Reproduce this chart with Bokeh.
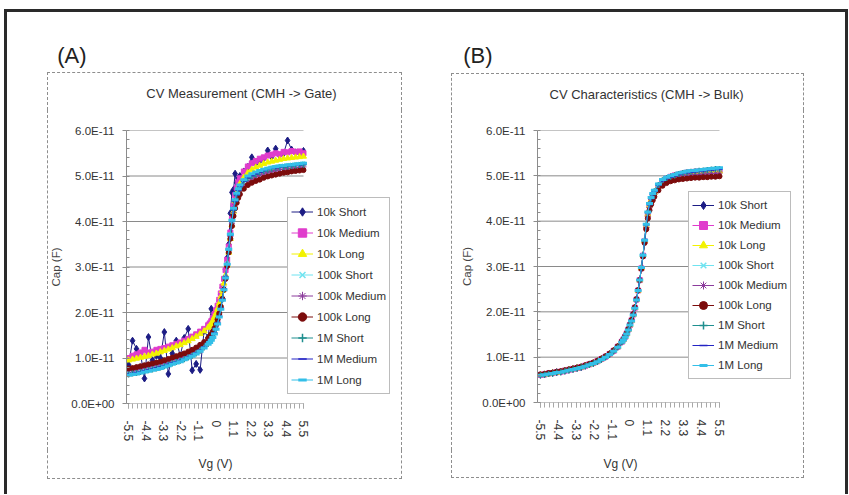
from bokeh.plotting import figure
from bokeh.models import (Range1d, FixedTicker, CustomJSTickFormatter, Legend, LegendItem,
                          Label, InlineStyleSheet)
from bokeh.layouts import row, column
from bokeh.embed import file_html
from bokeh.resources import INLINE

# ---------------- data (capacitance in units of 1E-11 F) ----------------
vg = [-5.5, -5.25, -5.0, -4.75, -4.5, -4.25, -4.0, -3.75, -3.5, -3.25, -3.0, -2.75, -2.5, -2.25, -2.0, -1.75, -1.5, -1.25, -1.0, -0.75, -0.5,
      -0.4, -0.3, -0.2, -0.1, 0.0, 0.1, 0.2, 0.3, 0.4, 0.5, 0.6, 0.7, 0.8, 0.9, 1.0, 1.1, 1.2, 1.3, 1.4, 1.5,
      1.75, 2.0, 2.25, 2.5, 2.75, 3.0, 3.25, 3.5, 3.75, 4.0, 4.25, 4.5, 4.75, 5.0, 5.25, 5.5]

series_names = ["10k Short", "10k Medium", "10k Long", "100k Short", "100k Medium",
                "100k Long", "1M Short", "1M Medium", "1M Long"]

x_tick_values = [-5.5, -4.4, -3.3, -2.2, -1.1, 0.0, 1.1, 2.2, 3.3, 4.4, 5.5]
y_tick_values = [0, 1, 2, 3, 4, 5, 6]

# Panel A: CV Measurement (CMH -> Gate)
a_10k_short = [0.85, 1.38, 1.20, 1.10, 0.55, 1.46, 0.95, 1.05, 1.00, 1.57, 0.65, 1.10, 1.38, 1.05, 1.44, 1.64, 0.73, 0.87, 0.74, 1.60, 1.45,
               1.75, 2.08, 1.93, 1.85, 2.00, 2.10, 2.25, 2.40, 2.55, 2.72, 2.95, 3.20, 3.50, 4.18, 4.64, 4.70, 5.05, 4.85, 4.95, 5.00,
               5.10, 5.20, 5.41, 5.28, 5.33, 5.38, 5.56, 5.42, 5.60, 5.45, 5.50, 5.78, 5.58, 5.52, 5.50, 5.55]
a_10k_medium = [1.00, 1.05, 1.08, 1.12, 1.18, 1.12, 1.14, 1.18, 1.20, 1.22, 1.25, 1.28, 1.31, 1.34, 1.38, 1.42, 1.47, 1.52, 1.58, 1.64, 1.72,
                1.76, 1.81, 1.88, 1.96, 2.05, 2.15, 2.28, 2.42, 2.57, 2.74, 2.93, 3.16, 3.45, 3.76, 4.06, 4.35, 4.58, 4.74, 4.86, 4.95,
                5.10, 5.21, 5.28, 5.33, 5.38, 5.41, 5.45, 5.47, 5.50, 5.48, 5.53, 5.52, 5.55, 5.53, 5.54, 5.50]
a_10k_long = [0.95, 0.97, 0.99, 1.01, 1.03, 1.05, 1.08, 1.10, 1.13, 1.16, 1.19, 1.22, 1.26, 1.29, 1.33, 1.37, 1.42, 1.47, 1.53, 1.59, 1.67,
              1.71, 1.75, 1.82, 1.90, 1.98, 2.08, 2.20, 2.34, 2.48, 2.64, 2.82, 3.05, 3.32, 3.62, 3.92, 4.22, 4.45, 4.62, 4.74, 4.83,
              4.97, 5.07, 5.14, 5.19, 5.23, 5.27, 5.30, 5.32, 5.34, 5.36, 5.38, 5.39, 5.40, 5.41, 5.42, 5.43]
a_100k_short = [0.66, 0.67, 0.69, 0.71, 0.73, 0.75, 0.77, 0.79, 0.81, 0.84, 0.87, 0.90, 0.93, 0.96, 0.99, 1.03, 1.07, 1.12, 1.18, 1.25, 1.33,
                1.37, 1.42, 1.48, 1.56, 1.66, 1.78, 1.93, 2.10, 2.30, 2.53, 2.79, 3.08, 3.40, 3.72, 4.02, 4.27, 4.46, 4.60, 4.70, 4.78,
                4.90, 4.97, 5.02, 5.06, 5.10, 5.13, 5.16, 5.18, 5.20, 5.22, 5.23, 5.24, 5.25, 5.26, 5.27, 5.28]
a_100k_medium = [0.72, 0.73, 0.75, 0.77, 0.79, 0.81, 0.83, 0.85, 0.87, 0.90, 0.93, 0.96, 0.99, 1.02, 1.05, 1.09, 1.13, 1.18, 1.24, 1.30, 1.38,
                 1.42, 1.47, 1.53, 1.61, 1.70, 1.81, 1.95, 2.11, 2.30, 2.52, 2.77, 3.05, 3.36, 3.67, 3.96, 4.20, 4.38, 4.51, 4.60, 4.68,
                 4.80, 4.88, 4.94, 4.98, 5.02, 5.05, 5.08, 5.10, 5.12, 5.14, 5.15, 5.16, 5.17, 5.18, 5.19, 5.20]
a_100k_long = [0.77, 0.78, 0.80, 0.82, 0.84, 0.86, 0.88, 0.90, 0.92, 0.95, 0.98, 1.01, 1.04, 1.07, 1.10, 1.14, 1.18, 1.23, 1.29, 1.35, 1.43,
               1.47, 1.52, 1.58, 1.65, 1.74, 1.85, 1.98, 2.13, 2.30, 2.50, 2.74, 3.02, 3.32, 3.62, 3.90, 4.12, 4.29, 4.41, 4.52, 4.60,
               4.72, 4.80, 4.85, 4.89, 4.92, 4.96, 4.99, 5.01, 5.03, 5.05, 5.07, 5.08, 5.10, 5.11, 5.12, 5.13]
a_1m_short = [0.64, 0.66, 0.67, 0.69, 0.71, 0.73, 0.75, 0.77, 0.79, 0.82, 0.85, 0.88, 0.91, 0.94, 0.97, 1.01, 1.05, 1.10, 1.16, 1.23, 1.31,
              1.35, 1.40, 1.46, 1.54, 1.64, 1.76, 1.91, 2.08, 2.28, 2.51, 2.77, 3.06, 3.38, 3.70, 4.00, 4.25, 4.44, 4.58, 4.68, 4.76,
              4.88, 4.95, 5.00, 5.04, 5.08, 5.11, 5.14, 5.16, 5.18, 5.19, 5.20, 5.21, 5.22, 5.23, 5.24, 5.25]
a_1m_medium = [0.65, 0.66, 0.68, 0.70, 0.72, 0.74, 0.76, 0.78, 0.80, 0.83, 0.86, 0.89, 0.92, 0.95, 0.98, 1.02, 1.06, 1.11, 1.17, 1.24, 1.32,
               1.36, 1.41, 1.47, 1.55, 1.65, 1.77, 1.92, 2.09, 2.29, 2.52, 2.78, 3.07, 3.39, 3.71, 4.01, 4.26, 4.45, 4.59, 4.69, 4.77,
               4.89, 4.96, 5.01, 5.05, 5.09, 5.12, 5.15, 5.17, 5.18, 5.20, 5.21, 5.22, 5.23, 5.24, 5.25, 5.26]
a_1m_long = [0.62, 0.64, 0.65, 0.67, 0.69, 0.71, 0.73, 0.75, 0.77, 0.80, 0.83, 0.86, 0.89, 0.92, 0.96, 1.00, 1.04, 1.09, 1.15, 1.22, 1.30,
             1.34, 1.39, 1.45, 1.53, 1.63, 1.75, 1.90, 2.07, 2.27, 2.50, 2.76, 3.06, 3.39, 3.72, 4.03, 4.29, 4.48, 4.62, 4.72, 4.80,
             4.92, 5.00, 5.05, 5.09, 5.12, 5.15, 5.17, 5.19, 5.21, 5.22, 5.23, 5.24, 5.25, 5.26, 5.27, 5.28]

# Panel B: CV Characteristics (CMH -> Bulk)
b_10k_short = [0.61, 0.62, 0.64, 0.65, 0.67, 0.68, 0.70, 0.72, 0.74, 0.76, 0.78, 0.81, 0.84, 0.87, 0.91, 0.96, 1.01, 1.07, 1.14, 1.23, 1.34,
               1.39, 1.45, 1.52, 1.61, 1.71, 1.81, 1.94, 2.09, 2.27, 2.47, 2.70, 2.96, 3.24, 3.56, 3.88, 4.14, 4.33, 4.46, 4.56, 4.63,
               4.77, 4.87, 4.93, 4.97, 5.00, 5.02, 5.04, 5.05, 5.06, 5.07, 5.08, 5.08, 5.09, 5.09, 5.10, 5.10]
b_10k_medium = [0.61, 0.62, 0.64, 0.65, 0.67, 0.68, 0.70, 0.72, 0.74, 0.76, 0.78, 0.81, 0.84, 0.87, 0.91, 0.96, 1.01, 1.07, 1.14, 1.23, 1.34,
                1.39, 1.45, 1.52, 1.61, 1.71, 1.81, 1.94, 2.09, 2.27, 2.47, 2.70, 2.96, 3.24, 3.56, 3.88, 4.14, 4.34, 4.47, 4.57, 4.64,
                4.78, 4.88, 4.94, 4.98, 5.01, 5.03, 5.05, 5.07, 5.08, 5.09, 5.10, 5.10, 5.11, 5.11, 5.12, 5.12]
b_10k_long = [0.61, 0.62, 0.63, 0.65, 0.66, 0.68, 0.70, 0.72, 0.74, 0.76, 0.78, 0.81, 0.84, 0.87, 0.91, 0.96, 1.01, 1.07, 1.14, 1.23, 1.34,
              1.39, 1.45, 1.52, 1.61, 1.71, 1.81, 1.94, 2.09, 2.27, 2.47, 2.70, 2.96, 3.25, 3.57, 3.89, 4.15, 4.34, 4.47, 4.56, 4.63,
              4.77, 4.86, 4.92, 4.96, 4.99, 5.02, 5.04, 5.05, 5.06, 5.07, 5.08, 5.08, 5.09, 5.09, 5.10, 5.10]
b_100k_short = [0.60, 0.61, 0.63, 0.64, 0.66, 0.67, 0.69, 0.71, 0.73, 0.75, 0.77, 0.80, 0.83, 0.86, 0.90, 0.95, 1.00, 1.06, 1.13, 1.22, 1.33,
                1.38, 1.44, 1.51, 1.60, 1.71, 1.80, 1.93, 2.08, 2.26, 2.47, 2.70, 2.97, 3.25, 3.58, 3.92, 4.19, 4.38, 4.51, 4.60, 4.67,
                4.81, 4.91, 4.96, 4.99, 5.02, 5.05, 5.07, 5.09, 5.10, 5.11, 5.12, 5.13, 5.14, 5.15, 5.16, 5.16]
b_100k_medium = [0.61, 0.63, 0.64, 0.66, 0.67, 0.69, 0.71, 0.73, 0.75, 0.77, 0.79, 0.82, 0.85, 0.88, 0.92, 0.97, 1.02, 1.08, 1.15, 1.24, 1.35,
                 1.40, 1.46, 1.53, 1.62, 1.72, 1.82, 1.95, 2.09, 2.27, 2.47, 2.70, 2.96, 3.24, 3.55, 3.86, 4.11, 4.30, 4.43, 4.53, 4.60,
                 4.74, 4.84, 4.90, 4.94, 4.97, 4.99, 5.00, 5.01, 5.02, 5.03, 5.03, 5.04, 5.04, 5.05, 5.05, 5.06]
b_100k_long = [0.62, 0.63, 0.65, 0.66, 0.68, 0.69, 0.71, 0.73, 0.75, 0.77, 0.79, 0.82, 0.85, 0.88, 0.92, 0.97, 1.02, 1.08, 1.15, 1.24, 1.35,
               1.40, 1.46, 1.53, 1.62, 1.72, 1.82, 1.95, 2.10, 2.28, 2.48, 2.70, 2.95, 3.22, 3.52, 3.82, 4.06, 4.24, 4.37, 4.46, 4.54,
               4.68, 4.78, 4.84, 4.88, 4.90, 4.92, 4.93, 4.94, 4.95, 4.96, 4.96, 4.97, 4.97, 4.98, 4.98, 4.99]
b_1m_short = [0.60, 0.61, 0.63, 0.64, 0.66, 0.67, 0.69, 0.71, 0.73, 0.75, 0.77, 0.80, 0.83, 0.86, 0.90, 0.95, 1.00, 1.06, 1.13, 1.22, 1.33,
              1.38, 1.44, 1.51, 1.60, 1.71, 1.80, 1.93, 2.08, 2.26, 2.47, 2.70, 2.97, 3.25, 3.58, 3.92, 4.19, 4.37, 4.50, 4.59, 4.66,
              4.80, 4.90, 4.95, 4.98, 5.01, 5.04, 5.06, 5.08, 5.09, 5.10, 5.11, 5.12, 5.13, 5.14, 5.15, 5.15]
b_1m_medium = [0.60, 0.61, 0.63, 0.64, 0.66, 0.67, 0.69, 0.71, 0.73, 0.75, 0.77, 0.80, 0.83, 0.86, 0.90, 0.95, 1.00, 1.06, 1.13, 1.22, 1.33,
               1.38, 1.44, 1.51, 1.60, 1.71, 1.80, 1.93, 2.08, 2.26, 2.47, 2.70, 2.97, 3.25, 3.58, 3.92, 4.19, 4.37, 4.50, 4.59, 4.66,
               4.80, 4.89, 4.94, 4.97, 5.00, 5.03, 5.05, 5.07, 5.08, 5.09, 5.10, 5.11, 5.12, 5.13, 5.14, 5.14]
b_1m_long = [0.60, 0.61, 0.63, 0.64, 0.66, 0.67, 0.69, 0.71, 0.73, 0.75, 0.77, 0.80, 0.83, 0.86, 0.90, 0.95, 1.00, 1.06, 1.13, 1.22, 1.33,
             1.38, 1.44, 1.51, 1.60, 1.71, 1.80, 1.93, 2.08, 2.26, 2.47, 2.70, 2.98, 3.25, 3.58, 3.93, 4.20, 4.39, 4.52, 4.61, 4.68,
             4.82, 4.92, 4.97, 5.00, 5.03, 5.06, 5.08, 5.10, 5.11, 5.12, 5.13, 5.14, 5.15, 5.16, 5.17, 5.18]

panel_a_series = [a_10k_short, a_10k_medium, a_10k_long, a_100k_short, a_100k_medium,
                  a_100k_long, a_1m_short, a_1m_medium, a_1m_long]
panel_b_series = [b_10k_short, b_10k_medium, b_10k_long, b_100k_short, b_100k_medium,
                  b_100k_long, b_1m_short, b_1m_medium, b_1m_long]

# ---------------- styles ----------------
FONT = "Liberation Sans"
colors = ["#1c1c84", "#e03ccc", "#f2f200", "#6fe3f0", "#8c3c9c",
          "#7c0c0c", "#1f8f8f", "#2424c4", "#33bfe8"]
markers = ["diamond", "square", "triangle", "x", "asterisk", "circle", "cross", "dash", "dash"]
msizes = [7, 5, 6, 5, 6, 5, 6, 6, 7]
mwidths = [1, 1, 1, 1.5, 1, 1, 1.5, 1.5, 3]

SOLID = "3px solid #2a2a2a"
DASH = "1px dashed #8e8e8e"


def deco_css(before, after):
    """before/after: (left, top, width, height, style, sides) boxes drawn over a figure."""
    rules = []
    for pseudo, box in (("before", before), ("after", after)):
        l, t, w, h, style, sides = box
        b = " ".join("border-%s: %s;" % (s, style) for s in sides)
        rules.append(":host::%s { content: ''; position: absolute; left: %dpx; top: %dpx; width: %dpx;"
                     " height: %dpx; box-sizing: border-box; %s pointer-events: none; z-index: 20; }"
                     % (pseudo, l, t, w, h, b))
    return [InlineStyleSheet(css="\n".join(rules))]


def text_strip(width, height, fl, fr, texts, css, tag=None, tag_standoff=0):
    """A strip that shares the chart's borders; its x range is in canvas pixels."""
    p = figure(width=width, height=height, x_range=Range1d(fl, width - fr),
               y_range=Range1d(height, 0), x_axis_type=None,
               y_axis_type="linear" if tag else None,
               output_backend="svg", toolbar_location=None,
               min_border_left=fl, min_border_right=fr, min_border_top=0, min_border_bottom=0,
               stylesheets=css)
    p.outline_line_color = None
    p.grid.visible = False
    p.background_fill_color = "white"
    p.border_fill_color = "white"
    if tag:
        ax = p.yaxis[0]
        ax.ticker = FixedTicker(ticks=[], minor_ticks=[])
        ax.axis_line_color = None
        ax.major_tick_line_color = None
        ax.minor_tick_line_color = None
        ax.axis_label = tag
        ax.axis_label_text_font = FONT
        ax.axis_label_text_font_size = "22px"
        ax.axis_label_text_font_style = "normal"
        ax.axis_label_text_color = "#222222"
        ax.axis_label_standoff = tag_standoff
        try:
            ax.axis_label_orientation = "horizontal"
        except Exception:
            pass
    for (x, y, txt, size) in texts:
        p.add_layout(Label(x=x, y=y, text=txt, text_font=FONT, text_font_size=size,
                           text_color="#333333", text_align="center", text_baseline="middle"))
    return p


def chart(series, width, height, borders, xr, x_end, legend_loc, row_h, css):
    bl, br, bt, bb = borders
    p = figure(width=width, height=height, x_range=Range1d(xr, x_end), y_range=Range1d(0, 6),
               output_backend="svg", toolbar_location=None,
               min_border_left=bl, min_border_right=br, min_border_top=bt, min_border_bottom=bb,
               stylesheets=css)
    p.outline_line_color = None
    p.background_fill_color = "white"
    p.border_fill_color = "white"
    p.grid.visible = False

    # horizontal gridlines (and the category axis line) end at the last category
    p.segment(x0=[xr] * len(y_tick_values), x1=[x_tick_values[-1]] * len(y_tick_values),
              y0=y_tick_values, y1=y_tick_values, line_color="#8a8a8a", line_width=1)

    # y axis
    yt = FixedTicker(ticks=y_tick_values, minor_ticks=[i * 0.2 for i in range(31)])
    p.yaxis.ticker = yt
    p.yaxis.formatter = CustomJSTickFormatter(
        code="return tick == 0 ? '0.0E+00' : tick.toFixed(1) + 'E-11';")
    p.yaxis.axis_line_color = "#8c8c8c"
    p.yaxis.major_tick_line_color = "#8c8c8c"
    p.yaxis.minor_tick_line_color = "#8c8c8c"
    p.yaxis.major_tick_out = 4
    p.yaxis.major_tick_in = 0
    p.yaxis.minor_tick_in = 3
    p.yaxis.minor_tick_out = 0
    p.yaxis.major_label_standoff = 8
    p.yaxis.major_label_text_font = FONT
    p.yaxis.major_label_text_font_size = "11.5px"
    p.yaxis.major_label_text_color = "#333333"
    p.yaxis.axis_label = "Cap (F)"
    p.yaxis.axis_label_text_font = FONT
    p.yaxis.axis_label_text_font_size = "11.5px"
    p.yaxis.axis_label_text_font_style = "normal"
    p.yaxis.axis_label_text_color = "#444444"
    p.yaxis.axis_label_standoff = 6

    # x axis (its line is the y = 0 segment above)
    step = 1.1 / 4
    xt = FixedTicker(ticks=x_tick_values, minor_ticks=[-5.5 + i * step for i in range(41)])
    p.xaxis.ticker = xt
    p.xaxis.formatter = CustomJSTickFormatter(
        code="return Math.abs(tick) < 1e-9 ? '0' : tick.toFixed(1);")
    p.xaxis.major_label_orientation = "vertical"
    p.xaxis.axis_line_color = None
    p.xaxis.major_tick_line_color = "#9a9a9a"
    p.xaxis.minor_tick_line_color = "#a8a8a8"
    p.xaxis.major_tick_out = 5
    p.xaxis.major_tick_in = 0
    p.xaxis.minor_tick_out = 5
    p.xaxis.minor_tick_in = 0
    p.xaxis.major_label_standoff = 12
    p.xaxis.major_label_text_font = FONT
    p.xaxis.major_label_text_font_size = "12px"
    p.xaxis.major_label_text_color = "#333333"

    items = []
    for name, vals, c, m, s, w in zip(series_names, series, colors, markers, msizes, mwidths):
        lr = p.line(vg, vals, line_color=c, line_width=1)
        sr = p.scatter(vg, vals, marker=m, size=s, fill_color=c, line_color=c, line_width=w)
        items.append(LegendItem(label=name, renderers=[lr, sr]))

    leg = Legend(items=items, location=legend_loc)
    leg.border_line_color = "#7a7a7a"
    leg.border_line_width = 1
    leg.background_fill_color = "white"
    leg.background_fill_alpha = 1.0
    leg.label_text_font = FONT
    leg.label_text_font_size = "11.5px"
    leg.label_text_color = "#333333"
    leg.glyph_width = 22
    leg.glyph_height = row_h
    leg.label_height = row_h
    leg.label_standoff = 4
    leg.spacing = 0
    leg.padding = 3
    leg.margin = 0
    p.add_layout(leg)
    return p


WA, WB = 425, 423
HH, HC, HF = 110, 340, 44     # header, chart, footer heights
BA = (126, 32)                # left / right borders of panel A
BB = (112, 52)                # left / right borders of panel B

# ---- panel A ----
head_a = text_strip(WA, HH, BA[0], BA[1], [(241, 93, "CV Measurement (CMH -> Gate)", "13px")],
                    deco_css((4, 9, WA - 4, HH - 9, SOLID, ["left", "top"]),
                             (47, 72, 355, HH - 72, DASH, ["left", "top", "right"])),
                    tag="(A)", tag_standoff=40)
chart_a = chart(panel_a_series, WA, HC, (BA[0], BA[1], 20, 47), -5.63, 11.16, (161, 9), 21,
                deco_css((4, 0, 3, HC, SOLID, ["left"]),
                         (47, 0, 355, HC, DASH, ["left", "right"])))
foot_a = text_strip(WA, HF, BA[0], BA[1], [(215, 13, "Vg (V)", "12px")],
                    deco_css((4, 0, 3, HF, SOLID, ["left"]),
                             (47, 0, 355, 29, DASH, ["left", "right", "bottom"])))

# ---- panel B ----
head_b = text_strip(WB, HH, BB[0], BB[1], [(221, 94, "CV Characteristics (CMH -> Bulk)", "13px")],
                    deco_css((0, 9, WB, HH - 9, SOLID, ["top", "right"]),
                             (26, 73, 353, HH - 73, DASH, ["left", "top", "right"])),
                    tag="(B)", tag_standoff=45)
chart_b = chart(panel_b_series, WB, HC, (BB[0], BB[1], 20, 48), -5.68, 10.23, (151, 23), 20,
                deco_css((WB - 3, 0, 3, HC, SOLID, ["right"]),
                         (26, 0, 353, HC, DASH, ["left", "right"])))
foot_b = text_strip(WB, HF, BB[0], BB[1], [(195, 13, "Vg (V)", "12px")],
                    deco_css((WB - 3, 0, 3, HF, SOLID, ["right"]),
                             (26, 0, 353, 28, DASH, ["left", "right", "bottom"])))

layout = row(column(head_a, chart_a, foot_a, spacing=0),
             column(head_b, chart_b, foot_b, spacing=0), spacing=0)
open("out.html", "w").write(file_html(layout, INLINE))
